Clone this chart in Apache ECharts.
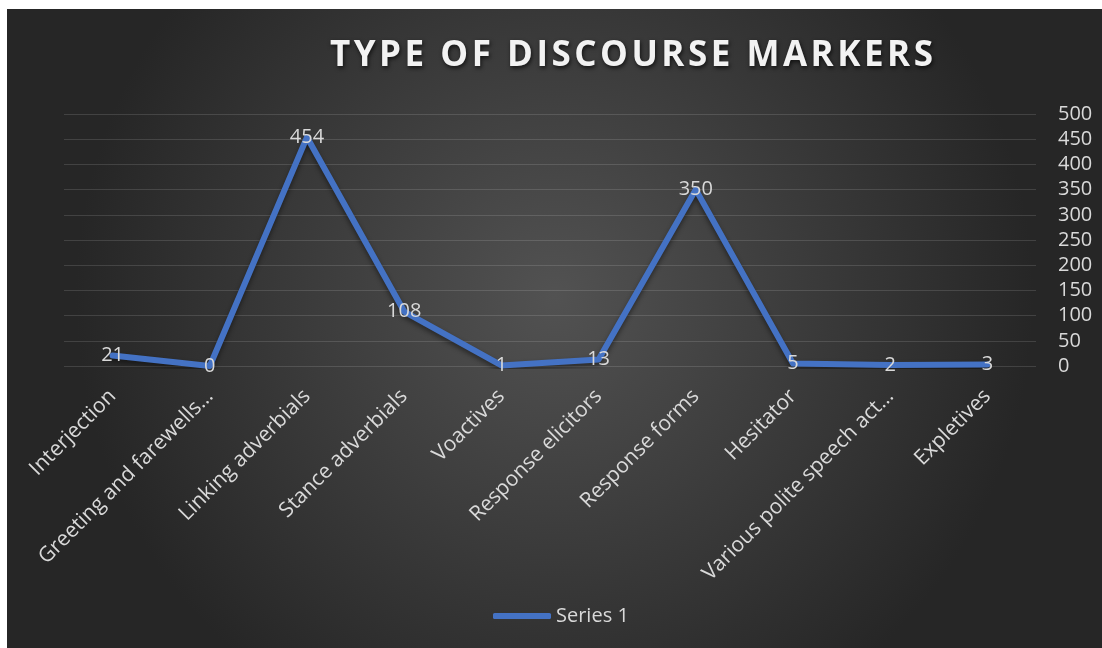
<!DOCTYPE html>
<html>
<head>
<meta charset="utf-8">
<script src="https://cdn.jsdelivr.net/npm/echarts@6/dist/echarts.min.js"></script>
<style>
  html, body { margin: 0; padding: 0; background: #ffffff; width: 1102px; height: 648px; overflow: hidden; }
  #chart { position: absolute; left: 7px; top: 9px; width: 1095px; height: 639px; }
</style>
</head>
<body>
<div id="chart"></div>
<script>
const categories = ['Interjection', 'Greeting and farewells…', 'Linking adverbials', 'Stance adverbials', 'Voactives', 'Response elicitors', 'Response forms', 'Hesitator', 'Various polite speech act…', 'Expletives'];
const series1 = [21, 0, 454, 108, 1, 13, 350, 5, 2, 3];
const seriesName = 'Series 1';
const titleText = 'TYPE OF DISCOURSE MARKERS';

const chart = echarts.init(document.getElementById('chart'), null, { renderer: 'canvas' });
const font = '"Open Sans", "Noto Sans", sans-serif';
chart.setOption({
  backgroundColor: {
    type: 'radial', x: 0.5, y: 0.45, r: 0.75,
    colorStops: [{ offset: 0, color: '#525252' }, { offset: 1, color: '#262626' }]
  },
  title: {
    text: titleText.split('').join('\u200A'),
    left: 318, top: 25,
    textStyle: {
      fontFamily: font, fontSize: 35, fontWeight: 'bold', color: '#f2f2f2',
      textShadowColor: 'rgba(0,0,0,0.7)', textShadowBlur: 4, textShadowOffsetY: 2, textShadowOffsetX: 1
    }
  },
  legend: {
    data: [seriesName],
    left: 481, bottom: 17,
    icon: 'roundRect', itemWidth: 58, itemHeight: 6,
    textStyle: { fontFamily: font, fontSize: 20, color: '#d9d9d9' }
  },
  grid: { left: 57, right: 66, top: 105, bottom: 282, containLabel: false },
  xAxis: {
    type: 'category', data: categories, boundaryGap: true,
    axisLine: { show: false }, axisTick: { show: false },
    axisLabel: { rotate: 45, interval: 0, margin: 27, fontFamily: font, fontSize: 21, color: '#d9d9d9' }
  },
  yAxis: {
    type: 'value', position: 'right', min: 0, max: 500, interval: 50,
    axisLine: { show: false }, axisTick: { show: false },
    axisLabel: { margin: 22, fontFamily: font, fontSize: 20, color: '#d9d9d9', align: 'left' },
    splitLine: { lineStyle: { color: 'rgba(255,255,255,0.13)', width: 1 } }
  },
  series: [{
    name: seriesName, type: 'line', data: series1,
    symbol: 'circle', symbolSize: 1, showSymbol: true,
    lineStyle: { color: '#4472C4', width: 6, cap: 'round', join: 'round',
      shadowColor: 'rgba(0,0,0,0.45)', shadowBlur: 5, shadowOffsetY: 3 },
    itemStyle: { color: '#4472C4', opacity: 1 },
    label: { show: true, position: 'inside', fontFamily: font, fontSize: 20, color: '#d9d9d9' },
    animation: false
  }],
  animation: false
});
</script>
</body>
</html>
